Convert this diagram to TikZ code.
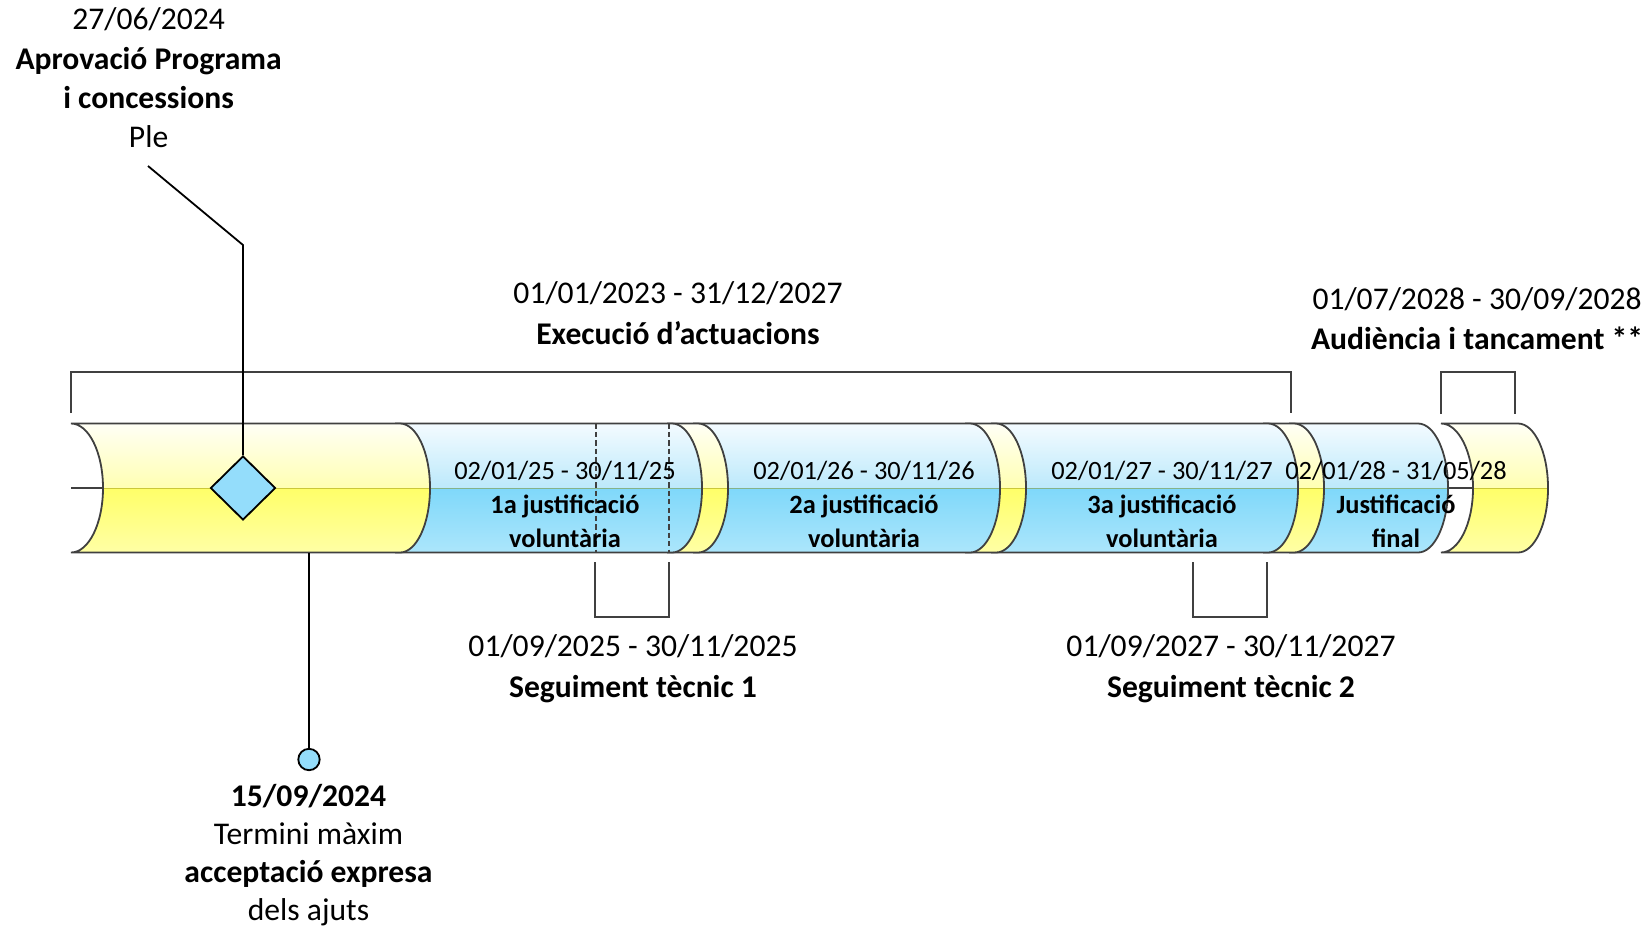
\documentclass[tikz,border=0pt]{standalone}
\usepackage{fontspec}
\setmainfont{Carlito}
\usetikzlibrary{shapes.geometric}
\definecolor{outc}{HTML}{404040}
\definecolor{yA}{HTML}{FFFFF6}
\definecolor{yB}{HTML}{FFFFB2}
\definecolor{yC}{HTML}{FFFF68}
\definecolor{yD}{HTML}{FFFFA6}
\definecolor{bA}{HTML}{F4FBFF}
\definecolor{bB}{HTML}{BCE9FB}
\definecolor{bC}{HTML}{7FD8FA}
\definecolor{bD}{HTML}{ACE6FB}
\definecolor{mkblue}{HTML}{94DDFB}
\tikzset{
  outl/.style={draw=outc, line width=0.9pt},
  midl/.style={draw=olive, opacity=0.45, line width=0.5pt},
  brk/.style={draw=outc, line width=1.2pt},
  conn/.style={draw=black, line width=0.9pt},
  dashline/.style={draw=outc, line width=0.7pt, dash pattern=on 2.6pt off 1.6pt},
  marker/.style={draw=black, line width=0.9pt, fill=mkblue, inner sep=0pt},
  lbl/.style={align=center, inner sep=0pt, anchor=base, font=\fontsize{15.8}{20.25}\selectfont},
  seglbl/.style={align=center, inner sep=0pt, anchor=base, font=\fontsize{13.2}{16.9}\selectfont},
}
% standard segment: #1 left (hidden), #2 cap top x, #3-#6 colours
\newcommand\tubeseg[6]{%
  \begin{scope}
    \clip (#1,423.5) -- (#2,423.5) .. controls ({#2+16.57},423.5) and ({#2+30},452.38) .. ({#2+30},488)
      .. controls ({#2+30},523.62) and ({#2+16.57},552.5) .. (#2,552.5) -- (#1,552.5) -- cycle;
    \shade[top color=#3, bottom color=#4] ({#1-2},423) rectangle ({#2+32},488);
    \shade[top color=#5, bottom color=#6] ({#1-2},488) rectangle ({#2+32},553);
    \draw[midl] ({#1-2},488) -- ({#2+32},488);
  \end{scope}
  \draw[outl] (#1,423.5) -- (#2,423.5) .. controls ({#2+16.57},423.5) and ({#2+30},452.38) .. ({#2+30},488)
      .. controls ({#2+30},523.62) and ({#2+16.57},552.5) .. (#2,552.5) -- (#1,552.5);
}
% segment with open (concave) left end
\newcommand\tubesegc[6]{%
  \begin{scope}
    \clip (#1,423.5) -- (#2,423.5) .. controls ({#2+16.57},423.5) and ({#2+30},452.38) .. ({#2+30},488)
      .. controls ({#2+30},523.62) and ({#2+16.57},552.5) .. (#2,552.5) -- (#1,552.5)
      .. controls ({#1+17.67},552.5) and ({#1+32},523.62) .. ({#1+32},488)
      .. controls ({#1+32},452.38) and ({#1+17.67},423.5) .. (#1,423.5) -- cycle;
    \shade[top color=#3, bottom color=#4] ({#1-2},423) rectangle ({#2+32},488);
    \shade[top color=#5, bottom color=#6] ({#1-2},488) rectangle ({#2+32},553);
    \draw[midl] ({#1-2},488) -- ({#2+32},488);
  \end{scope}
  \draw[outl] (#1,423.5) -- (#2,423.5) .. controls ({#2+16.57},423.5) and ({#2+30},452.38) .. ({#2+30},488)
      .. controls ({#2+30},523.62) and ({#2+16.57},552.5) .. (#2,552.5) -- (#1,552.5)
      .. controls ({#1+17.67},552.5) and ({#1+32},523.62) .. ({#1+32},488)
      .. controls ({#1+32},452.38) and ({#1+17.67},423.5) .. (#1,423.5) -- cycle;
  \draw[outl] (#1,488) -- ({#1+32},488);
}
\begin{document}
\begin{tikzpicture}[x=0.5pt, y=-0.5pt]
\useasboundingbox (0,0) rectangle (1652,927);
% tube, drawn right to left
\tubesegc{1441}{1518}{yA}{yB}{yC}{yD}
\tubeseg{1289}{1418}{bA}{bB}{bC}{bD}
\tubeseg{1263}{1294}{yA}{yB}{yC}{yD}
\tubeseg{991}{1268}{bA}{bB}{bC}{bD}
\tubeseg{965}{996}{yA}{yB}{yC}{yD}
\tubeseg{693}{970}{bA}{bB}{bC}{bD}
\tubeseg{667}{698}{yA}{yB}{yC}{yD}
\tubeseg{395}{672}{bA}{bB}{bC}{bD}
\tubesegc{71}{400}{yA}{yB}{yC}{yD}
% dashed marks in first justification
\draw[dashline] (596,423.5) -- (596,552.5);
\draw[dashline] (669,423.5) -- (669,552.5);
% segment labels (anchored at the baseline of the last line)
\node[seglbl] (s1) at (565,547.5) {02/01/25 - 30/11/25\\\textbf{1a justificació}\\\textbf{voluntària}};
\node[seglbl] (s2) at (864,547.5) {02/01/26 - 30/11/26\\\textbf{2a justificació}\\\textbf{voluntària}};
\node[seglbl] (s3) at (1162,547.5) {02/01/27 - 30/11/27\\\textbf{3a justificació}\\\textbf{voluntària}};
\node[seglbl] (s4) at (1396,547.5) {02/01/28 - 31/05/28\\\textbf{Justificació}\\\textbf{final}};
% brackets
\coordinate (e1) at (71,413);
\coordinate (e2) at (1291,413);
\draw[brk] (e1) -- ++(0,-41) -| (e2);
\coordinate (a1) at (1441,414);
\coordinate (a2) at (1515,414);
\draw[brk] (a1) -- ++(0,-42) -| (a2);
\coordinate (g1) at (595,562);
\coordinate (g2) at (669,562);
\draw[brk] (g1) -- ++(0,55) -| (g2);
\coordinate (h1) at (1193,562);
\coordinate (h2) at (1267,562);
\draw[brk] (h1) -- ++(0,55) -| (h2);
% markers and connectors
\node[marker, diamond, minimum width=32.5pt, minimum height=32pt] (apr) at (243,488) {};
\node[marker, circle, minimum size=10.7pt] (acc) at (309,759.5) {};
\coordinate (kA) at (243,245);
\coordinate (kB) at (148,166);
\draw[conn] (apr.north) -- (kA) -- (kB);
\coordinate (kC) at (309,552.5);
\draw[conn] (kC) -- (acc.north);
% labels (anchored at the baseline of the last line)
\node[lbl, font=\fontsize{15.8}{19.6}\selectfont] (lApr) at (148.6,147.5) {27/06/2024\\\textbf{Aprovació Programa}\\\textbf{i concessions}\\Ple};
\node[lbl] (lExe) at (678,344) {01/01/2023 - 31/12/2027\\\textbf{Execució d’actuacions}};
\node[lbl] (lAud) at (1477,349.6) {01/07/2028 - 30/09/2028\\\textbf{Audiència i tancament **}};
\node[lbl] (lSeg1) at (633,697) {01/09/2025 - 30/11/2025\\\textbf{Seguiment tècnic 1}};
\node[lbl] (lSeg2) at (1231,697) {01/09/2027 - 30/11/2027\\\textbf{Seguiment tècnic 2}};
\node[lbl, font=\fontsize{15.8}{19.0}\selectfont] (lAcc) at (308.5,920.5) {\textbf{15/09/2024}\\Termini màxim\\\textbf{acceptació expresa}\\dels ajuts};
\end{tikzpicture}
\end{document}
